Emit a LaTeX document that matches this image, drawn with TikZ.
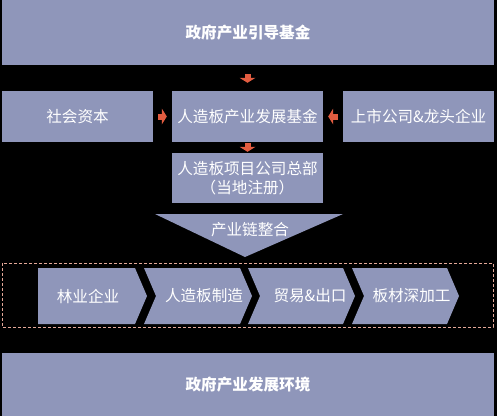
\documentclass[tikz,border=0pt]{standalone}
\usepackage{fontspec}
\usepackage{tikz}
\usetikzlibrary{arrows.meta}

\newfontfamily\cjk{Noto Sans CJK SC}
\definecolor{boxblue}{RGB}{143,150,186}
\definecolor{arrowred}{RGB}{226,92,64}
\definecolor{dashpink}{RGB}{228,168,152}

\tikzset{
  box/.style={fill=boxblue, text=white, inner sep=0pt, minimum width=151pt, minimum height=51pt, align=center, font=\cjk\fontsize{15.6}{19}\selectfont},
  band/.style={box, minimum width=492pt, font=\cjk\bfseries\fontsize{15.6}{19}\selectfont},
  tag/.style={text=white, inner sep=0pt, font=\cjk\fontsize{15.6}{19}\selectfont},
  flow/.style={arrowred, line width=6pt, -{Triangle[length=5pt,width=16pt,line width=0pt]}}
}

\begin{document}
\begin{tikzpicture}[x=1pt,y=-1pt]
%\draw[step=10pt,gray,very thin] (0,0) grid (497,416);
\fill[black] (0,0) rectangle (497,416);

\node[band, minimum height=65pt] (gov) at (248,32.5) {政府产业引导基金};

\node[box] (capital) at (77.5,116.5) {社会资本};
\node[box] (fund) at (247.5,116.5) {人造板产业发展基金};
\node[box] (listed) at (418.5,116.5) {上市公司\&龙头企业};
\node[box, minimum height=50pt] (hq) at (247.5,178) {人造板项目公司总部\\（当地注册）};

\draw[flow, shorten <=9pt, shorten >=8pt] (fund.north |- gov.south) -- (fund.north);
\draw[flow, shorten <=5pt, shorten >=5pt] (capital.east) -- (fund.west);
\draw[flow, shorten <=5pt, shorten >=5pt] (listed.west) -- (fund.east);
\draw[flow, shorten <=1pt, shorten >=1pt] (fund.south) -- (hq.north);

% funnel
\fill[boxblue] (155,214) -- (343,214) -- (245,257) -- cycle;
\node[tag] (chain) at (250,230) {产业链整合};

% value chain
\draw[dashpink, line width=0.7pt, dash pattern=on 3pt off 2pt] (2,263) rectangle (493,327);

\fill[boxblue] (38,268) -- (135,268) -- (147,296) -- (135,324) -- (38,324) -- cycle;
\fill[boxblue] (144,268) -- (240,268) -- (252,296) -- (240,324) -- (144,324) -- (156,296) -- cycle;
\fill[boxblue] (248,268) -- (343,268) -- (355,296) -- (343,324) -- (248,324) -- (260,296) -- cycle;
\fill[boxblue] (352,268) -- (447,268) -- (459,296) -- (447,324) -- (352,324) -- (364,296) -- cycle;

\node[tag] (forest) at (88,296) {林业企业};
\node[tag] (board) at (204,296) {人造板制造};
\node[tag] (trade) at (310,296) {贸易\&出口};
\node[tag] (deep) at (411.5,296) {板材深加工};

\node[band, minimum height=63pt] (env) at (248,384.5) {政府产业发展环境};

\end{tikzpicture}
\end{document}
